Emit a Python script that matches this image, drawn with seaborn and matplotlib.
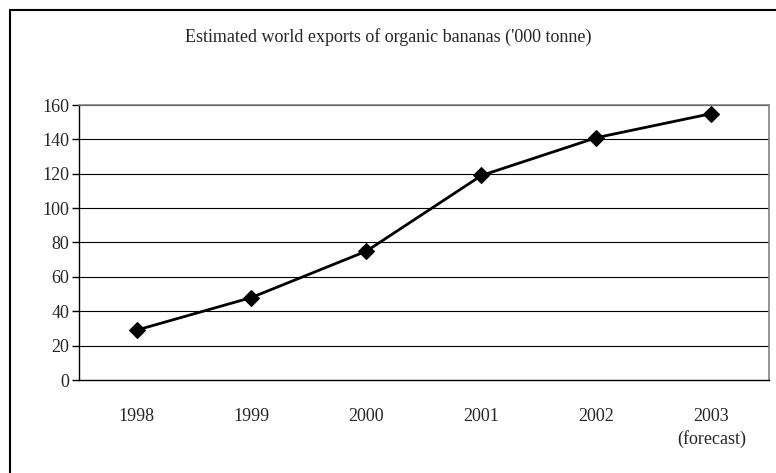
import numpy as np
import pandas as pd
import matplotlib
matplotlib.use("Agg")
import matplotlib.pyplot as plt
from matplotlib.patches import Rectangle
import seaborn as sns

years = ["1998", "1999", "2000", "2001", "2002", "2003\n(forecast)"]
exports = [29, 48, 75, 119, 141, 155]
y_ticks = [0, 20, 40, 60, 80, 100, 120, 140, 160]

sns.set_style("white")
plt.rcParams['font.family'] = ['Liberation Serif', 'DejaVu Serif']

df = pd.DataFrame({"year": years, "exports": exports})
df["pos"] = np.arange(len(years))

fig = plt.figure(figsize=(7.76, 4.73), dpi=100)
ax = fig.add_axes([79 / 776, 1 - 380 / 473, 690 / 776, 275 / 473])

# gridlines
for v in y_ticks[1:]:
    ax.axhline(v, color="black", lw=0.8, zorder=1)

sns.lineplot(data=df, x="pos", y="exports", ax=ax, color="black", lw=2,
             marker="D", markersize=8, markeredgecolor="black", zorder=3)

ax.set_xlim(-0.5, len(years) - 0.5)
ax.set_ylim(0, 160)
ax.set_yticks(y_ticks)
ax.set_yticklabels([str(v) for v in y_ticks], fontsize=13)
ax.set_xticks(df["pos"])
ax.set_xticklabels(years, fontsize=13, linespacing=1.35)
ax.set_xticks(np.arange(len(years) + 1) - 0.5, minor=True)
ax.tick_params(axis="x", which="major", length=0, pad=20)
ax.tick_params(axis="x", which="minor", length=5, width=1, color="black", direction="out")
ax.tick_params(axis="y", length=5, width=1, color="black", direction="out", pad=2, left=True)
ax.set_xlabel("")
ax.set_ylabel("")

for s in ["left", "bottom"]:
    ax.spines[s].set_color("black")
    ax.spines[s].set_linewidth(1)
for s in ["top", "right"]:
    ax.spines[s].set_visible(True)
    ax.spines[s].set_color("#808080")
    ax.spines[s].set_linewidth(1.2)

fig.text(0.5, 1 - 37 / 473, "Estimated world exports of organic bananas ('000 tonne)",
         ha="center", va="center", fontsize=13)

# outer chart frame (only top and left edges fall inside the image)
fig.patches.append(Rectangle((10 / 776, -0.1), 1.2, 1 - 10 / 473 + 0.1,
                             transform=fig.transFigure, fill=False,
                             edgecolor="black", lw=1.5))

fig.savefig("out.png", dpi=100)
